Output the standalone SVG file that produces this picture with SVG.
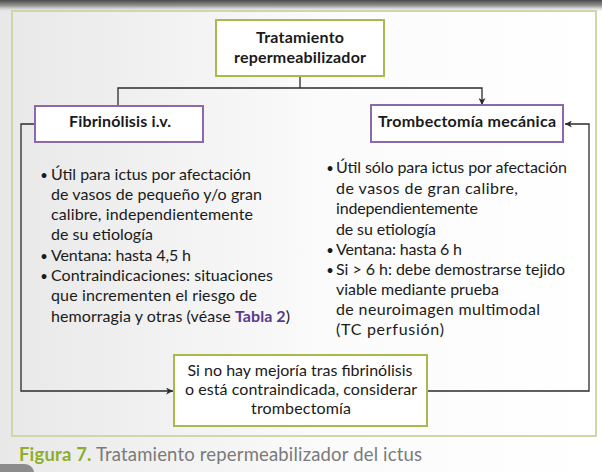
<svg xmlns="http://www.w3.org/2000/svg" width="602" height="472" viewBox="0 0 602 472">
  <defs>
    <linearGradient id="bg" x1="0" y1="0" x2="1" y2="0">
      <stop offset="0" stop-color="#e8e8e8"/>
      <stop offset="0.55" stop-color="#fbfbfb"/>
      <stop offset="1" stop-color="#ffffff"/>
    </linearGradient>
    <linearGradient id="band" x1="0" y1="0" x2="0" y2="1">
      <stop offset="0" stop-color="#4a4a4a"/>
      <stop offset="0.5" stop-color="#9a9a9a"/>
      <stop offset="1" stop-color="#e6e6e6" stop-opacity="0"/>
    </linearGradient>
    <marker id="arr" viewBox="0 0 10 10" refX="10" refY="5" markerWidth="7" markerHeight="7" markerUnits="userSpaceOnUse" orient="auto">
      <path d="M0,0 L10,5 L0,10 L3,5 z" fill="#2b2b2b"/>
    </marker>
  </defs>
  <style>
    text { font-family: "Lato", "Liberation Sans", sans-serif; fill: #1a1a1a; }
    .h { font-weight: bold; font-size: 16px; text-anchor: middle; }
    .b { font-size: 16px; }
    .c { font-size: 16px; text-anchor: middle; }
    .bul { font-size: 13px; text-anchor: middle; }
    .green { fill: #ffffff; stroke: #a9b94e; stroke-width: 2; }
    .purple { fill: #ffffff; stroke: #8c68ac; stroke-width: 2; }
    .conn { fill: none; stroke: #2b2b2b; stroke-width: 1.3; }
  </style>

  <rect x="0" y="0" width="602" height="472" fill="url(#bg)"/>
  <rect x="0" y="0" width="602" height="12" fill="url(#band)"/>
  <rect x="12" y="11" width="584" height="425" fill="none" stroke="#cfd6a8" stroke-width="2"/>
  <path d="M0,464 L24,464 Q32,464 34,472 L0,472 z" fill="#8c8c8c"/>

  <g id="connectors">
    <path class="conn" d="M300,76 V88"/>
    <path class="conn" d="M118,105 V88 H482 V105" marker-start="url(#arr)" marker-end="url(#arr)"/>
    <path class="conn" d="M35,124 H21 V391 H173" marker-end="url(#arr)"/>
    <path class="conn" d="M428,391 H589 V124 H565" marker-end="url(#arr)"/>
  </g>

  <g id="node-tratamiento">
    <rect class="green" x="216" y="20" width="168" height="56"/>
    <text class="h" x="300" y="43" textLength="88">Tratamiento</text>
    <text class="h" x="300" y="63" textLength="132">repermeabilizador</text>
  </g>

  <g id="node-fibrinolisis">
    <rect class="purple" x="35" y="106" width="168" height="36"/>
    <text class="h" x="120" y="127" textLength="102">Fibrinólisis i.v.</text>
  </g>

  <g id="node-trombectomia">
    <rect class="purple" x="371" y="105" width="192" height="37"/>
    <text class="h" x="467" y="127" textLength="178">Trombectomía mecánica</text>
  </g>

  <g id="text-fibrinolisis">
    <text class="bul" x="44" y="180">•</text>
    <text class="b" x="51" y="180" textLength="200">Útil para ictus por afectación</text>
    <text class="b" x="51" y="200" textLength="211">de vasos de pequeño y/o gran</text>
    <text class="b" x="51" y="220" textLength="202">calibre, independientemente</text>
    <text class="b" x="51" y="240" textLength="102">de su etiología</text>
    <text class="bul" x="44" y="261">•</text>
    <text class="b" x="51" y="261" textLength="140">Ventana: hasta 4,5 h</text>
    <text class="bul" x="44" y="281">•</text>
    <text class="b" x="51" y="281" textLength="222">Contraindicaciones: situaciones</text>
    <text class="b" x="51" y="301" textLength="206">que incrementen el riesgo de</text>
    <text class="b" x="51" y="322" textLength="239">hemorragia y otras (véase <tspan font-weight="bold" fill="#5b3a8e">Tabla 2</tspan>)</text>
  </g>

  <g id="text-trombectomia">
    <text class="bul" x="330" y="173">•</text>
    <text class="b" x="336" y="173" textLength="231">Útil sólo para ictus por afectación</text>
    <text class="b" x="336" y="194" textLength="182">de vasos de gran calibre,</text>
    <text class="b" x="336" y="214" textLength="142">independientemente</text>
    <text class="b" x="336" y="235" textLength="100">de su etiología</text>
    <text class="bul" x="330" y="255">•</text>
    <text class="b" x="336" y="255" textLength="126">Ventana: hasta 6 h</text>
    <text class="bul" x="330" y="275">•</text>
    <text class="b" x="336" y="275" textLength="229">Si &gt; 6 h: debe demostrarse tejido</text>
    <text class="b" x="336" y="295" textLength="163">viable mediante prueba</text>
    <text class="b" x="336" y="315" textLength="204">de neuroimagen multimodal</text>
    <text class="b" x="336" y="335" textLength="108">(TC perfusión)</text>
  </g>

  <g id="node-considerar">
    <rect class="green" x="174" y="355" width="253" height="71"/>
    <text class="c" x="300" y="376" textLength="225">Si no hay mejoría tras fibrinólisis</text>
    <text class="c" x="301" y="395" textLength="232">o está contraindicada, considerar</text>
    <text class="c" x="301" y="414" textLength="100">trombectomía</text>
  </g>

  <g id="caption">
    <text x="19" y="461" font-size="18.5px" textLength="403"><tspan font-weight="bold" fill="#8fae2e">Figura 7.</tspan><tspan fill="#7a7a7a"> Tratamiento repermeabilizador del ictus</tspan></text>
  </g>
</svg>
